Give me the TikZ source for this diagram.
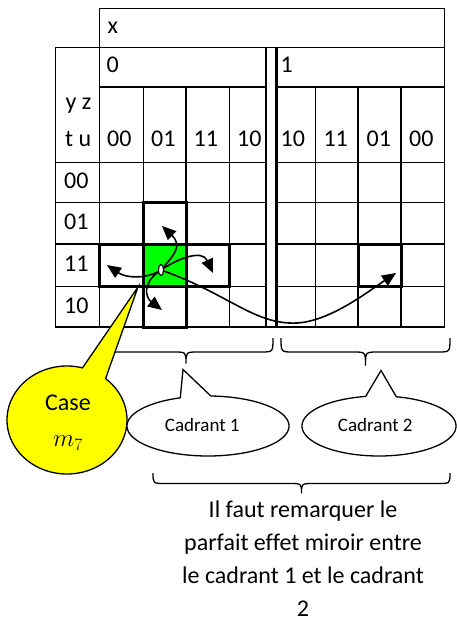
\documentclass[tikz,border=0pt]{standalone}
\usepackage{fontspec}
\setmainfont{Carlito}[Ligatures=NoCommon]
\usetikzlibrary{arrows.meta,shapes.geometric}
\definecolor{mygreen}{RGB}{0,255,0}
\definecolor{myyellow}{RGB}{255,255,0}
\newcommand{\curlybrace}[6]{%
  \draw[bracestyle] (#1,#4) .. controls (#1,#5) .. ({#1+12},#5) -- ({#2-12},#5)
    .. controls (#2,#5) .. (#2,#6) .. controls (#2,#5) .. ({#2+12},#5)
    -- ({#3-12},#5) .. controls (#3,#5) .. (#3,#4);}
\begin{document}
\begin{tikzpicture}[x=1pt,y=-1pt,
  gridline/.style={line width=1.3pt, line cap=rect},
  boldline/.style={line width=3pt},
  lbl/.style={anchor=base west, inner sep=0pt, font=\fontsize{24}{29}\selectfont},
  ctext/.style={anchor=base, inner sep=0pt, font=\fontsize{24}{29}\selectfont},
  smalltext/.style={anchor=base, inner sep=0pt, font=\fontsize{19}{23}\selectfont},
  arr/.style={line width=1.6pt, -{Triangle[length=14pt,width=12pt]}},
  bracestyle/.style={line width=1.3pt},
  bubble/.style={line width=1.3pt, draw=black}]
\useasboundingbox (0,0) rectangle (456,623);
\fill[white] (0,0) rectangle (456,623);

% green cell m7
\fill[mygreen] (143.3,244) rectangle (186,286.5);

% horizontal grid lines
\draw[gridline] (99.5,8.3) -- (444.5,8.3);
\draw[gridline] (55.5,47.3) -- (444.5,47.3);
\draw[gridline] (99.5,87) -- (266,87) (276.7,87) -- (444.5,87);
\foreach \yy in {162.7,202.7,244,286.5}{
  \draw[gridline] (55.5,\yy) -- (266,\yy) (276.7,\yy) -- (444.5,\yy);}
\draw[gridline] (55.5,327) -- (444.5,327);
% vertical grid lines
\draw[gridline] (55.5,47.3) -- (55.5,327);
\draw[gridline] (99.5,8.3) -- (99.5,327);
\draw[gridline] (444.5,8.3) -- (444.5,327);
\foreach \xx in {143.3,186,229.3,315.3,358,401}{
  \draw[gridline] (\xx,87) -- (\xx,327);}
\draw[gridline] (266,47.3) -- (266,327);
\draw[boldline] (276.7,47.3) -- (276.7,327);

% bold boxes
\draw[boldline] (143.3,202.7) rectangle (186,327);
\draw[boldline] (99.5,244) rectangle (229.3,286.5);
\draw[boldline] (358,244) rectangle (401,286.5);

% labels
\node[lbl] (hx) at (107.5,33.3) {x};
\node[lbl] (h0) at (106.5,72.7) {0};
\node[lbl] (h1) at (280.5,72.7) {1};
\node[lbl] (yz) at (65.5,109.3) {y z};
\node[lbl] (tu) at (65,146.5) {t u};
\node[lbl] (ca) at (107,146.5) {00};
\node[lbl] (cb) at (151,146.5) {01};
\node[lbl] (cc) at (193.5,146.5) {11};
\node[lbl] (cd) at (237,146.5) {10};
\node[lbl] (ce) at (280.5,146.5) {10};
\node[lbl] (cf) at (323.3,146.5) {11};
\node[lbl] (cg) at (366.5,146.5) {01};
\node[lbl] (ch) at (409,146.5) {00};
\node[lbl] (ra) at (64,188) {00};
\node[lbl] (rb) at (64,229.5) {01};
\node[lbl] (rc) at (64,271) {11};
\node[lbl] (rd) at (64,313) {10};

% braces under the quadrants
\curlybrace{107}{186}{273}{338}{352}{363.5}
\curlybrace{281}{365.5}{450}{338}{352}{365.5}

% arrows from m7
\node[draw, fill=white, ellipse, inner sep=0pt, minimum width=5pt, minimum height=11pt, line width=1pt] (dot) at (161,270) {};
\coordinate (tipU) at (162,226);
\coordinate (tipR) at (213,273);
\coordinate (tipL) at (107,265);
\coordinate (tipD) at (162,310);
\coordinate (dip) at (297,323);
\coordinate (tipF) at (396,273);
\draw[arr] (dot) .. controls (173,256) and (183,246) .. (tipU);
\draw[arr] (dot) .. controls (178,259) and (202,249) .. (tipR);
\draw[arr] (dot) .. controls (145,279) and (126,278) .. (tipL);
\draw[arr] (dot) .. controls (143,283) and (145,297) .. (tipD);
\draw[arr] (dot) .. controls (230,295) and (255,325) .. (dip) .. controls (330,321) and (366,293) .. (tipF);
\node[draw, fill=white, ellipse, inner sep=0pt, minimum width=5pt, minimum height=11pt, line width=1pt] (dotb) at (dot) {};

% yellow callout
\draw[bubble, fill=myyellow] (138,287) -- plot[domain=50:-285, samples=150, variable=\t] ({67+60*cos(\t)},{420-54*sin(\t)}) -- cycle;
\node[ctext] (case) at (68,410) {Case};
\node[ctext] (m7) at (68,446.7) {$m_7$};

% quadrant callouts
\draw[bubble, fill=white] (183,369.5) -- plot[domain=110:448, samples=150, variable=\t] ({208+81*cos(\t)},{426-30*sin(\t)}) -- cycle;
\draw[bubble, fill=white] (381,370.5) -- plot[domain=100:437, samples=150, variable=\t] ({379+77*cos(\t)},{426-30*sin(\t)}) -- cycle;
\node[smalltext] (q1) at (202.3,431.7) {Cadrant 1};
\node[smalltext] (q2) at (375.3,431.7) {Cadrant 2};

% big brace and remark
\curlybrace{153}{301.5}{450}{473}{483.5}{493.3}
\node[ctext] (t1) at (303,517.5) {Il faut remarquer le};
\node[ctext] (t2) at (303,550.5) {parfait effet miroir entre};
\node[ctext] (t3) at (303,583.5) {le cadrant 1 et le cadrant};
\node[ctext] (t4) at (303,616.5) {2};
\end{tikzpicture}
\end{document}
